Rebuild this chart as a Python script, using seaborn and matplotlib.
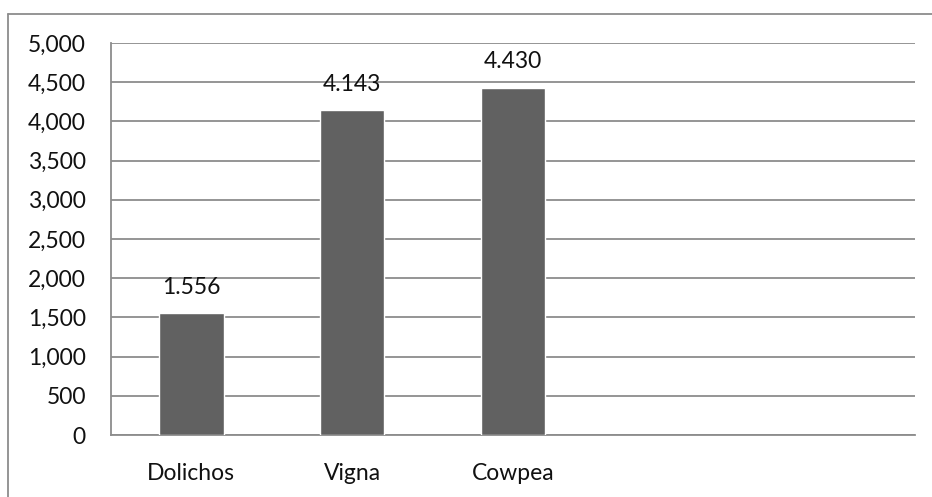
import numpy as np
import pandas as pd
import matplotlib
matplotlib.use("Agg")
import matplotlib.pyplot as plt
from matplotlib.lines import Line2D
import seaborn as sns

crops = ['Dolichos', 'Vigna', 'Cowpea']
yields = [1556, 4143, 4430]
order = ['Dolichos', 'Vigna', 'Cowpea', ' ', '  ']
yticks = np.arange(0, 5001, 500)

sns.set_style("white")
plt.rcParams['font.family'] = ['Lato', 'DejaVu Sans']

df = pd.DataFrame({'crop': crops, 'yield': yields})

fig = plt.figure(figsize=(9.32, 4.97), dpi=100)
ax = fig.add_axes([0.119, 0.1247, 0.863, 0.7888])

sns.barplot(data=df, x='crop', y='yield', order=order, color='#616161',
            saturation=1, width=0.4, ax=ax, zorder=3)

ax.set_ylim(0, 5000)
ax.set_yticks(yticks)
ax.set_yticklabels([f"{v:,}" for v in yticks])
ax.set_xlabel('')
ax.set_ylabel('')
ax.grid(axis='y', color='#8c8c8c', linewidth=1.3, zorder=0)
ax.set_axisbelow(True)
for s in ['top', 'right']:
    ax.spines[s].set_visible(False)
for s in ['left', 'bottom']:
    ax.spines[s].set_color('#8c8c8c')
    ax.spines[s].set_linewidth(1.3)
ax.tick_params(axis='y', length=0, pad=18, labelsize=16.5, colors='#111111')
ax.tick_params(axis='x', length=0, pad=20.5, labelsize=16.5, colors='#111111')

for i, v in enumerate(yields):
    ax.annotate(f"{v:,}".replace(',', '.'), (i, v), xytext=(0, 11),
                textcoords='offset points', ha='center', va='bottom',
                fontsize=16.5, color='#111111')

# outer chart frame (left and top edges)
fig.add_artist(Line2D([8/932, 8/932], [0, 1 - 13.5/497], color='#8c8c8c', lw=1.3,
                      transform=fig.transFigure))
fig.add_artist(Line2D([8/932, 1], [1 - 13.5/497, 1 - 13.5/497], color='#8c8c8c', lw=1.3,
                      transform=fig.transFigure))

plt.savefig('out.png', dpi=100)
plt.close()
